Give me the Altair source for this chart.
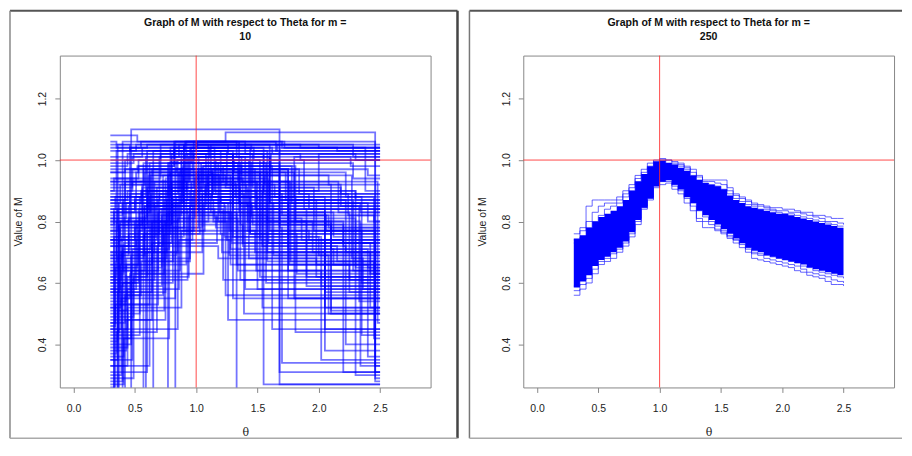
import altair as alt
import pandas as pd

# ---------------- data ----------------
TITLE_TEXT = "Graph of M with respect to Theta for m ="
PANEL_M = ["10", "250"]
X_TICKS = [0.0, 0.5, 1.0, 1.5, 2.0, 2.5]
Y_TICKS = [0.4, 0.6, 0.8, 1.0, 1.2]
X_LIMITS = [0.0, 2.8]
Y_LIMITS = [0.3, 1.3]
THETA_END = 2.5
REF_THETA = [1.0]
REF_M = [1.0]

# m = 10 : step curves (jump positions in theta, level after each jump)
LEFT_BREAKS = [
    [0.30, 0.47, 1.68], [0.30, 0.40, 1.24, 2.46], [0.30, 0.52, 2.46], [0.30, 0.36, 1.10, 2.05],
    [0.30, 0.42, 0.95, 1.55], [0.30, 0.33, 0.80, 1.30], [0.30, 0.48, 0.78, 1.45, 2.30], [0.30, 0.57, 1.20, 1.75],
    [0.30, 0.44, 0.60, 1.25, 2.10], [0.30, 0.38, 0.90, 1.60], [0.30, 0.65, 1.33], [0.30, 0.50, 0.86, 1.52, 2.20],
    [0.30, 0.35, 1.00, 1.70], [0.30, 0.77, 1.28, 2.40], [0.30, 0.41, 0.70, 1.40], [0.30, 0.46, 1.15, 2.00],
    [0.30, 0.59, 1.05, 1.62], [0.30, 0.55, 0.92, 1.35, 2.25], [0.30, 0.39, 0.83, 1.48], [0.30, 0.62, 1.18, 1.90],
    [0.30, 0.43, 0.75, 1.38, 2.15], [0.30, 0.53, 0.98, 1.65], [0.30, 0.83, 1.26], [0.30, 0.37, 0.68, 1.42, 2.35],
    [0.30, 0.49, 1.08, 1.80], [0.30, 0.34, 0.72, 1.22, 2.05], [0.30, 0.58, 0.88, 1.58], [0.30, 0.45, 0.96, 1.32, 2.45],
    [0.30, 0.40, 0.81, 1.50], [0.30, 0.63, 1.12, 1.68, 2.20], [0.30, 0.36, 0.58, 1.02, 1.75], [0.30, 0.51, 0.90, 1.36],
    [0.30, 0.44, 0.86, 1.27, 2.08], [0.30, 0.70, 1.16, 1.88], [0.30, 0.38, 0.64, 1.30, 2.30], [0.30, 0.54, 0.79, 1.44],
    [0.30, 0.42, 0.94, 1.60, 2.40], [0.30, 0.60, 1.07, 1.54], [0.30, 0.35, 0.73, 1.19, 2.12], [0.30, 0.48, 0.97, 1.66],
    [0.30, 0.41, 0.85, 1.34, 2.02], [0.30, 0.66, 1.22, 1.78], [0.30, 0.37, 0.56, 1.09, 2.27], [0.30, 0.52, 0.82, 1.47],
    [0.30, 0.43, 0.76, 1.29, 2.42], [0.30, 0.61, 1.04, 1.57], [0.30, 0.34, 0.69, 1.14, 1.95], [0.30, 0.50, 0.93, 1.46, 2.18],
    [0.30, 0.39, 0.67, 1.24], [0.30, 0.56, 1.01, 1.72, 2.38], [0.30, 0.47, 0.87, 1.39], [0.30, 0.33, 0.62, 1.13, 1.98],
    [0.30, 0.45, 0.99, 1.59], [0.30, 0.58, 0.84, 1.31, 2.22], [0.30, 0.36, 0.74, 1.21], [0.30, 0.53, 1.10, 1.84],
    [0.30, 0.40, 0.89, 1.37, 2.48], [0.30, 0.64, 1.17, 2.06], [0.30, 0.42, 0.71, 1.26, 1.85], [0.30, 0.55, 0.95, 1.49],
    [0.30, 0.38, 0.78, 1.41, 2.33], [0.30, 0.49, 1.06, 1.63], [0.30, 0.46, 0.91, 1.33, 2.26], [0.30, 0.57, 1.03, 1.76],
    [0.30, 0.35, 0.60, 1.45], [0.30, 0.44, 0.82, 1.70, 2.28], [0.30, 0.51, 1.14, 1.92], [0.30, 0.39, 0.76, 1.36, 2.10],
    [0.30, 0.62, 1.20, 1.82], [0.30, 0.46, 0.85, 1.43, 2.36], [0.30, 0.34, 0.66, 1.23, 2.00], [0.30, 0.56, 0.98, 1.55, 2.24],
    [0.30, 0.41, 0.80, 1.36], [0.30, 0.59, 1.11, 2.15],
    [0.30, 0.37, 0.88, 1.52], [0.30, 0.45, 0.79, 1.58, 2.20], [0.30, 0.33, 0.71, 1.30, 1.90], [0.30, 0.54, 1.02, 1.68],
    [0.30, 0.40, 0.63, 1.12, 2.05], [0.30, 0.48, 0.86, 1.40, 2.30], [0.30, 0.36, 0.75, 1.25], [0.30, 0.60, 1.13, 1.75, 2.40],
    [0.30, 0.43, 0.92, 1.50], [0.30, 0.52, 0.80, 1.37, 2.08], [0.30, 0.35, 0.68, 1.18, 1.98], [0.30, 0.57, 0.96, 1.62],
    [0.30, 0.41, 0.78, 1.33, 2.25], [0.30, 0.50, 1.05, 1.70, 2.45], [0.30, 0.38, 0.65, 1.20, 1.80], [0.30, 0.62, 0.95, 1.46],
    [0.30, 0.46, 0.74, 1.28, 2.12], [0.30, 0.33, 0.90, 1.55, 2.30], [0.30, 0.55, 1.00, 1.85], [0.30, 0.39, 0.72, 1.16, 1.70],
    [0.30, 0.47, 0.84, 1.44, 2.20], [0.30, 0.58, 1.08, 1.64, 2.35], [0.30, 0.36, 0.61, 1.24, 1.96], [0.30, 0.44, 0.88, 1.48, 2.05],
    [0.30, 0.53, 0.82, 1.30, 2.28], [0.30, 0.40, 0.70, 1.15, 1.86], [0.30, 0.64, 1.10, 1.77, 2.45], [0.30, 0.34, 0.77, 1.34, 2.16],
    [0.30, 0.49, 0.94, 1.58, 2.42], [0.30, 0.42, 0.83, 1.40, 2.00],
    [0.30, 0.43, 0.90, 1.68, 2.22], [0.30, 0.51, 0.97, 1.81, 2.34], [0.30, 0.37, 0.80, 1.49, 2.05], [0.30, 0.56, 1.02, 1.60, 2.46],
    [0.30, 0.40, 0.85, 1.42, 2.10], [0.30, 0.47, 0.93, 1.68], [0.30, 0.35, 0.76, 1.30, 2.02], [0.30, 0.60, 1.06, 1.81],
    [0.30, 0.44, 0.87, 1.35, 2.34], [0.30, 0.53, 0.98, 1.54, 2.22], [0.30, 0.39, 0.69, 1.27, 1.92], [0.30, 0.48, 0.91, 1.61, 2.40],
    [0.30, 0.34, 0.81, 1.45, 2.08], [0.30, 0.58, 1.00, 1.73, 2.28], [0.30, 0.42, 0.73, 1.38, 2.46], [0.30, 0.50, 0.89, 1.56, 2.18],
]
LEFT_LEVELS = [
    [0.20, 1.10, 0.27], [0.20, 1.06, 1.09, 0.28], [1.08, 1.06, 0.33], [0.20, 1.05, 0.88, 0.61],
    [0.20, 0.93, 1.04, 0.27], [0.23, 0.84, 1.02, 0.55], [0.35, 0.71, 0.99, 0.81, 0.30], [0.20, 0.97, 0.86, 0.64],
    [0.45, 0.62, 1.03, 0.92, 0.50], [0.52, 0.78, 1.05, 0.86], [0.20, 0.92, 0.20], [0.60, 0.80, 0.96, 0.74, 0.31],
    [0.67, 1.03, 1.05, 1.04], [0.20, 0.95, 0.66, 0.36], [0.74, 0.87, 1.01, 0.58], [0.80, 1.04, 0.90, 1.02],
    [0.20, 0.70, 0.98, 0.45], [0.86, 0.90, 1.06, 0.83, 0.57], [0.30, 0.55, 0.97, 0.84], [0.89, 0.99, 0.80, 0.62],
    [0.38, 0.48, 0.94, 0.72, 0.67], [0.94, 1.00, 1.06, 1.03], [0.20, 0.86, 0.48], [0.57, 0.74, 0.91, 0.77, 0.60],
    [0.99, 1.02, 0.88, 1.01], [0.47, 0.65, 0.84, 0.61, 0.52], [0.64, 0.82, 1.03, 0.67], [0.72, 0.85, 0.93, 0.88, 0.42],
    [0.28, 0.60, 0.88, 0.58], [0.83, 0.95, 1.05, 0.79, 0.73], [0.41, 0.69, 0.78, 0.97, 0.55], [1.03, 1.05, 0.99, 0.61],
    [0.33, 0.58, 0.74, 0.69, 0.50], [0.76, 0.89, 1.00, 0.84], [0.58, 0.66, 0.97, 0.90, 0.65], [0.50, 0.88, 1.04, 0.76],
    [0.87, 0.93, 1.01, 0.86, 0.80], [0.31, 0.77, 0.92, 0.52], [0.62, 0.72, 0.95, 0.83, 0.75], [0.91, 0.97, 1.03, 1.05],
    [0.36, 0.45, 0.81, 0.64, 0.59], [0.70, 0.93, 0.98, 0.86], [0.44, 0.79, 0.90, 0.95, 0.68], [0.97, 0.98, 1.04, 1.00],
    [0.54, 0.68, 0.83, 0.73, 0.63], [0.78, 0.90, 0.99, 0.60], [0.26, 0.53, 0.87, 0.80, 0.70], [0.84, 0.87, 1.02, 0.91, 0.85],
    [0.66, 0.75, 0.85, 0.56], [1.01, 1.04, 1.06, 1.04, 0.90], [0.40, 0.64, 0.89, 0.50], [0.79, 0.83, 0.96, 0.87, 0.66],
    [0.69, 0.81, 0.94, 0.73], [0.92, 0.96, 1.00, 0.96, 0.88], [0.35, 0.51, 0.76, 0.70], [0.60, 0.84, 0.97, 0.89],
    [0.82, 0.86, 0.98, 0.93, 0.47], [0.48, 0.73, 0.82, 0.77], [0.96, 1.00, 1.05, 1.02, 1.00], [0.56, 0.67, 0.90, 0.64],
    [0.75, 0.80, 0.92, 0.85, 0.54], [0.29, 0.63, 0.86, 0.69], [1.05, 1.03, 1.06, 1.01, 0.98], [0.68, 0.76, 0.93, 0.66],
    [1.06, 1.04, 1.05, 1.03], [0.98, 1.02, 1.06, 1.05, 1.01], [0.72, 0.96, 0.89, 0.84], [0.61, 0.70, 0.87, 0.79, 0.71],
    [0.53, 0.88, 0.76, 0.63], [0.85, 0.89, 1.00, 0.68, 0.58], [0.46, 0.61, 0.86, 0.75, 0.69], [0.77, 0.91, 1.02, 0.89, 0.82],
    [0.63, 0.73, 0.91, 0.85], [0.88, 1.01, 1.04, 1.03],
    [0.22, 0.86, 1.00, 0.62], [0.70, 0.76, 0.96, 0.80, 0.76], [0.90, 0.94, 1.02, 0.84, 0.59], [0.43, 0.83, 0.95, 0.78],
    [0.59, 0.71, 0.89, 0.83, 0.57], [1.00, 1.01, 1.05, 1.02, 1.00], [0.25, 0.57, 0.80, 0.74], [0.81, 0.88, 0.97, 0.71, 0.65],
    [0.51, 0.66, 0.93, 0.87], [0.65, 0.79, 1.01, 0.95, 0.92], [0.37, 0.44, 0.72, 0.68, 0.62], [0.93, 0.99, 1.04, 1.02],
    [0.27, 0.42, 0.83, 0.66, 0.61], [0.74, 0.78, 0.89, 0.82, 0.80], [0.86, 0.92, 1.03, 0.96, 0.55], [0.33, 0.68, 0.85, 0.79],
    [0.55, 0.63, 0.87, 0.71, 0.66], [0.22, 0.75, 0.94, 0.90, 0.87], [1.04, 1.06, 1.05, 1.04], [0.45, 0.59, 0.82, 0.78, 0.34],
    [0.62, 0.69, 0.88, 0.76, 0.72], [0.80, 0.85, 0.92, 0.88, 0.43], [0.77, 0.84, 0.95, 0.91, 0.77], [0.39, 0.52, 0.77, 0.70, 0.38],
    [0.96, 0.98, 1.03, 0.99, 0.94], [0.68, 0.72, 0.84, 0.81, 0.74], [0.57, 0.80, 0.93, 0.67, 0.63], [0.84, 0.88, 0.99, 0.93, 0.83],
    [0.49, 0.62, 0.82, 0.70, 0.52], [0.93, 0.97, 1.06, 1.05, 1.04],
    [0.81, 0.86, 0.99, 0.87, 0.40], [0.58, 0.74, 0.88, 0.80, 0.33], [0.73, 0.79, 0.93, 0.84, 0.45], [0.88, 0.92, 1.01, 0.77, 0.29],
    [0.64, 0.70, 0.86, 0.80, 0.51], [0.42, 0.61, 0.84, 0.31], [0.69, 0.80, 0.90, 0.75, 0.35], [0.79, 0.91, 0.98, 0.44],
    [0.87, 0.90, 0.97, 0.86, 0.83], [0.66, 0.77, 0.90, 0.72, 0.70], [0.52, 0.64, 0.83, 0.77, 0.74], [0.90, 0.93, 1.02, 0.97, 0.95],
    [0.61, 0.67, 0.86, 0.82, 0.78], [0.74, 0.85, 0.96, 0.87, 0.64], [0.47, 0.56, 0.79, 0.73, 0.31], [0.83, 0.88, 0.95, 0.92, 0.89],
]

# m = 250 : shared theta grid, dense core of the bundle and its outer curves
RIGHT_THETA = [0.30, 0.35, 0.40, 0.45, 0.50, 0.55, 0.60, 0.65, 0.70, 0.75, 0.80, 0.85, 0.90, 0.95, 1.00,
               1.05, 1.10, 1.15, 1.20, 1.25, 1.30, 1.35, 1.40, 1.45, 1.50, 1.55, 1.60, 1.65, 1.70, 1.75,
               1.80, 1.85, 1.90, 1.95, 2.00, 2.05, 2.10, 2.15, 2.20, 2.25, 2.30, 2.35, 2.40, 2.45, 2.50]
RIGHT_CORE_HIGH = [0.745, 0.755, 0.78, 0.80, 0.815, 0.825, 0.835, 0.85, 0.87, 0.90, 0.93, 0.955, 0.98, 0.995, 0.998,
                   0.99, 0.985, 0.975, 0.965, 0.95, 0.935, 0.925, 0.92, 0.915, 0.905, 0.885, 0.87, 0.86, 0.85, 0.845,
                   0.84, 0.835, 0.83, 0.825, 0.825, 0.82, 0.815, 0.81, 0.805, 0.80, 0.795, 0.79, 0.785, 0.78, 0.78]
RIGHT_CORE_LOW = [0.585, 0.605, 0.625, 0.655, 0.675, 0.685, 0.70, 0.715, 0.735, 0.765, 0.805, 0.845, 0.875, 0.915, 0.93,
                  0.935, 0.92, 0.905, 0.88, 0.86, 0.835, 0.82, 0.805, 0.79, 0.775, 0.76, 0.745, 0.73, 0.715, 0.705,
                  0.70, 0.69, 0.685, 0.68, 0.675, 0.67, 0.665, 0.66, 0.65, 0.645, 0.64, 0.635, 0.63, 0.625, 0.625]
RIGHT_OUTER_1 = [0.76, 0.78, 0.85, 0.87, 0.87, 0.87, 0.87, 0.88, 0.90, 0.92, 0.95, 0.97, 0.99, 1.00, 1.005,
                 1.00, 0.995, 0.99, 0.98, 0.97, 0.95, 0.935, 0.935, 0.935, 0.935, 0.91, 0.89, 0.88, 0.87, 0.86,
                 0.855, 0.85, 0.845, 0.845, 0.84, 0.84, 0.835, 0.83, 0.83, 0.82, 0.82, 0.815, 0.81, 0.81, 0.81]
RIGHT_OUTER_2 = [0.74, 0.77, 0.80, 0.83, 0.85, 0.86, 0.86, 0.87, 0.89, 0.91, 0.94, 0.96, 0.98, 0.995, 1.00,
                 1.00, 0.99, 0.985, 0.975, 0.96, 0.945, 0.93, 0.93, 0.925, 0.92, 0.90, 0.885, 0.875, 0.865, 0.855,
                 0.85, 0.845, 0.84, 0.835, 0.835, 0.83, 0.83, 0.825, 0.82, 0.815, 0.81, 0.80, 0.80, 0.795, 0.79]
RIGHT_OUTER_3 = [0.73, 0.75, 0.78, 0.80, 0.82, 0.84, 0.85, 0.86, 0.88, 0.90, 0.93, 0.95, 0.975, 0.99, 1.00,
                 0.99, 0.985, 0.98, 0.97, 0.95, 0.935, 0.925, 0.92, 0.915, 0.905, 0.89, 0.875, 0.865, 0.855, 0.85,
                 0.84, 0.84, 0.835, 0.83, 0.825, 0.825, 0.82, 0.815, 0.81, 0.805, 0.80, 0.795, 0.79, 0.785, 0.785]
RIGHT_OUTER_4 = [0.56, 0.58, 0.60, 0.63, 0.66, 0.67, 0.68, 0.70, 0.72, 0.75, 0.79, 0.84, 0.87, 0.91, 0.92,
                 0.925, 0.905, 0.89, 0.86, 0.835, 0.81, 0.80, 0.79, 0.775, 0.76, 0.745, 0.73, 0.715, 0.70, 0.68,
                 0.675, 0.67, 0.665, 0.66, 0.655, 0.65, 0.64, 0.635, 0.625, 0.62, 0.615, 0.605, 0.595, 0.595, 0.59]
RIGHT_OUTER_5 = [0.575, 0.595, 0.615, 0.645, 0.67, 0.68, 0.695, 0.71, 0.73, 0.76, 0.80, 0.845, 0.875, 0.915, 0.93,
                 0.93, 0.915, 0.90, 0.875, 0.85, 0.80, 0.78, 0.78, 0.77, 0.765, 0.75, 0.74, 0.725, 0.71, 0.695,
                 0.69, 0.68, 0.675, 0.67, 0.665, 0.66, 0.655, 0.645, 0.635, 0.63, 0.625, 0.62, 0.61, 0.605, 0.60]
RIGHT_OUTER_6 = [0.59, 0.61, 0.63, 0.66, 0.68, 0.69, 0.705, 0.72, 0.74, 0.77, 0.81, 0.85, 0.88, 0.92, 0.93,
                 0.935, 0.92, 0.905, 0.88, 0.86, 0.835, 0.815, 0.80, 0.785, 0.77, 0.755, 0.74, 0.73, 0.715, 0.70,
                 0.695, 0.69, 0.685, 0.68, 0.675, 0.67, 0.665, 0.655, 0.65, 0.64, 0.635, 0.63, 0.625, 0.62, 0.615]
RIGHT_OUTER = [RIGHT_OUTER_1, RIGHT_OUTER_2, RIGHT_OUTER_3, RIGHT_OUTER_4, RIGHT_OUTER_5, RIGHT_OUTER_6]

# ---------------- tables ----------------
left_rows = []
for i, (br, lv) in enumerate(zip(LEFT_BREAKS, LEFT_LEVELS)):
    for t, v in zip(br, lv):
        left_rows.append({"theta": t, "M": v, "run": i})
    left_rows.append({"theta": THETA_END, "M": lv[-1], "run": i})
left_df = pd.DataFrame(left_rows)

core_df = pd.DataFrame({"theta": RIGHT_THETA, "M": RIGHT_CORE_LOW, "high": RIGHT_CORE_HIGH})
outer_rows = []
for i, series in enumerate(RIGHT_OUTER):
    for t, v in zip(RIGHT_THETA, series):
        outer_rows.append({"theta": t, "M": v, "run": i})
outer_df = pd.DataFrame(outer_rows)

# ---------------- styling ----------------
def extend(lim):
    pad = 0.04 * (lim[1] - lim[0])
    return [lim[0] - pad, lim[1] + pad]

W, H = 372, 333
FONT = "Liberation Sans"
BLUE = "#0000ff"
RED = "#ff2a2a"
ONE = pd.DataFrame({"k": [0]})

XS = alt.Scale(domain=extend(X_LIMITS), nice=False, zero=False)
YS = alt.Scale(domain=extend(Y_LIMITS), nice=False, zero=False)

X_AXIS = alt.Axis(values=X_TICKS, format=".1f", title="θ", grid=False, domain=False,
                  tickColor="#888888", tickSize=5, labelFont=FONT, labelFontSize=10.5, labelColor="#222222",
                  labelPadding=11, labelFlush=False, labelOverlap=False,
                  titleFont="DejaVu Serif", titleFontSize=11, titleFontWeight="normal", titleColor="#222222",
                  titleX=W / 2, titleY=45, titleAlign="center", titleBaseline="middle")
Y_AXIS = alt.Axis(values=Y_TICKS, format=".1f", title="Value of M", grid=False, domain=False,
                  tickColor="#888888", tickSize=5, labelFont=FONT, labelFontSize=10.5, labelColor="#222222",
                  labelAngle=270, labelAlign="center", labelBaseline="middle", labelPadding=12,
                  labelFlush=False, labelOverlap=False,
                  titleFont=FONT, titleFontSize=10.5, titleFontWeight="normal", titleColor="#222222",
                  titleAngle=270, titleX=-38, titleY=H / 2, titleAlign="center", titleBaseline="alphabetic")

X_ENC = alt.X("theta:Q", scale=XS, axis=X_AXIS)
Y_ENC = alt.Y("M:Q", scale=YS, axis=Y_AXIS)


def hrule(x1, x2, y, color, w):
    return alt.Chart(ONE).mark_rule(color=color, strokeWidth=w).encode(
        x=alt.value(x1), x2=alt.value(x2), y=alt.value(y))


def vrule(x, y1, y2, color, w):
    return alt.Chart(ONE).mark_rule(color=color, strokeWidth=w).encode(
        x=alt.value(x), y=alt.value(y1), y2=alt.value(y2))


def titles(m_label):
    t1 = alt.Chart(pd.DataFrame({"t": [TITLE_TEXT]})).mark_text(
        font=FONT, fontSize=10.6, fontWeight="bold", color="#111111", align="center", baseline="middle"
    ).encode(text="t:N", x=alt.value(W / 2), y=alt.value(-33))
    t2 = alt.Chart(pd.DataFrame({"t": [m_label]})).mark_text(
        font=FONT, fontSize=10.6, fontWeight="bold", color="#111111", align="center", baseline="middle"
    ).encode(text="t:N", x=alt.value(W / 2), y=alt.value(-19))
    return t1 + t2


def refs():
    v = alt.Chart(pd.DataFrame({"theta": REF_THETA})).mark_rule(color=RED, strokeWidth=1, opacity=0.85).encode(x=X_ENC)
    h = alt.Chart(pd.DataFrame({"M": REF_M})).mark_rule(color=RED, strokeWidth=1, opacity=0.85).encode(y=Y_ENC)
    return v + h


left_lines = alt.Chart(left_df).mark_line(
    interpolate="step-after", color=BLUE, opacity=0.55, strokeWidth=1.8, clip=True
).encode(x=X_ENC, y=Y_ENC, detail="run:N")

right_core = alt.Chart(core_df).mark_area(
    interpolate="step-after", color=BLUE, opacity=1, clip=True
).encode(x=X_ENC, y=Y_ENC, y2="high:Q")
right_lines = alt.Chart(outer_df).mark_line(
    interpolate="step-after", color=BLUE, opacity=0.6, strokeWidth=1, clip=True
).encode(x=X_ENC, y=Y_ENC, detail="run:N")

left_frame = (hrule(-50, 399, -45, "#555555", 2) + vrule(-50, -45, 384, "#888888", 1.5)
              + vrule(399, -45, 384, "#444444", 2.5) + hrule(-50, 399, 384, "#aaaaaa", 1.5))
right_frame = (hrule(-54, 380, -45, "#555555", 2) + vrule(-54, -45, 384, "#777777", 1.5)
               + hrule(-54, 380, 384, "#aaaaaa", 1.5))

left = alt.layer(left_frame, titles(PANEL_M[0]), left_lines, refs()).properties(width=W, height=H)
right = alt.layer(right_frame, titles(PANEL_M[1]), right_core, right_lines, refs()).properties(width=W, height=H)

chart = alt.hconcat(left, right, spacing=8).properties(
    padding=0, background="white"
).configure_view(stroke="#888888", strokeWidth=1)

chart.save("out.html", embed_options={"renderer": "svg", "actions": False})
